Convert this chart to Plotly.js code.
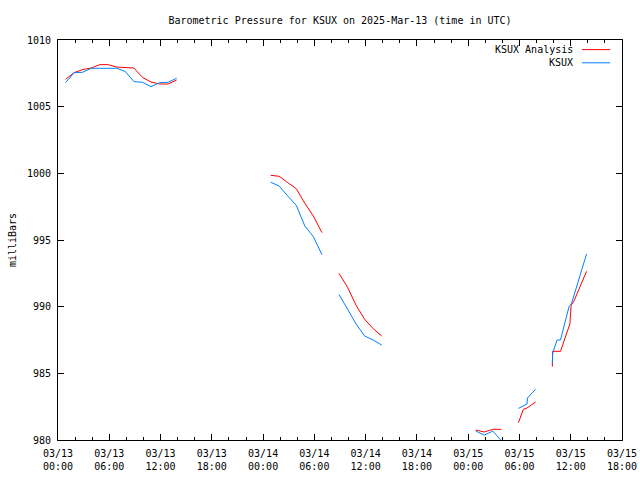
<!DOCTYPE html>
<html>
<head>
<meta charset="utf-8">
<script src="https://cdn.plot.ly/plotly-3.0.1.min.js"></script>
<style>html,body{margin:0;padding:0;background:#fff;}#chart{width:640px;height:480px;}</style>
</head>
<body>
<div id="chart"></div>
<script>
// KSUX Analysis (red)
var anaTimes = [
  '2025-03-13 00:53','2025-03-13 01:53','2025-03-13 02:53','2025-03-13 03:53','2025-03-13 04:53',
  '2025-03-13 05:53','2025-03-13 06:53','2025-03-13 07:53','2025-03-13 08:53','2025-03-13 09:53',
  '2025-03-13 10:53','2025-03-13 11:53','2025-03-13 12:53','2025-03-13 13:53',
  '2025-03-13 18:00',
  '2025-03-14 00:53','2025-03-14 01:53','2025-03-14 02:53','2025-03-14 03:53','2025-03-14 04:53',
  '2025-03-14 05:53','2025-03-14 06:53',
  '2025-03-14 07:30',
  '2025-03-14 08:53','2025-03-14 09:53','2025-03-14 10:53','2025-03-14 11:53','2025-03-14 12:53','2025-03-14 13:53',
  '2025-03-14 18:00',
  '2025-03-15 00:53','2025-03-15 01:53','2025-03-15 02:53','2025-03-15 03:53',
  '2025-03-15 04:30',
  '2025-03-15 05:53','2025-03-15 06:27','2025-03-15 06:53','2025-03-15 07:53',
  '2025-03-15 08:30',
  '2025-03-15 09:51','2025-03-15 09:53','2025-03-15 10:48','2025-03-15 11:54','2025-03-15 12:03',
  '2025-03-15 12:24','2025-03-15 13:51'
];
var anaValues = [
  1007.05,1007.55,1007.78,1007.9,1008.15,
  1008.15,1007.97,1007.95,1007.9,1007.2,
  1006.85,1006.7,1006.7,1007.0,
  null,
  999.85,999.78,999.3,998.85,997.75,
  996.8,995.55,
  null,
  992.5,991.45,990.1,989.05,988.35,987.8,
  null,
  980.75,980.6,980.8,980.8,
  null,
  981.3,982.3,982.4,982.85,
  null,
  985.5,986.65,986.65,988.7,990.1,
  990.45,992.65
];

// KSUX observations (blue)
var obsTimes = [
  '2025-03-13 00:53','2025-03-13 01:53','2025-03-13 02:53','2025-03-13 03:53','2025-03-13 04:53',
  '2025-03-13 05:53','2025-03-13 06:53','2025-03-13 07:53','2025-03-13 08:53','2025-03-13 09:53',
  '2025-03-13 10:53','2025-03-13 11:53','2025-03-13 12:53','2025-03-13 13:53',
  '2025-03-13 18:00',
  '2025-03-14 00:53','2025-03-14 01:53','2025-03-14 02:53','2025-03-14 03:53','2025-03-14 04:53',
  '2025-03-14 05:53','2025-03-14 06:53',
  '2025-03-14 07:30',
  '2025-03-14 08:53','2025-03-14 09:53','2025-03-14 10:53','2025-03-14 11:53','2025-03-14 12:53','2025-03-14 13:53',
  '2025-03-14 18:00',
  '2025-03-15 00:53','2025-03-15 01:53','2025-03-15 02:53','2025-03-15 03:53',
  '2025-03-15 04:30',
  '2025-03-15 05:53','2025-03-15 06:53','2025-03-15 06:56','2025-03-15 07:53',
  '2025-03-15 08:30',
  '2025-03-15 09:51','2025-03-15 09:53','2025-03-15 10:24','2025-03-15 10:48','2025-03-15 11:48',
  '2025-03-15 12:06','2025-03-15 13:51'
];
var obsValues = [
  1006.8,1007.55,1007.58,1007.88,1007.88,
  1007.88,1007.88,1007.63,1006.88,1006.83,
  1006.5,1006.8,1006.83,1007.13,
  null,
  999.33,999.05,998.3,997.6,996.05,
  995.25,993.9,
  null,
  990.92,989.85,988.7,987.8,987.5,987.12,
  null,
  980.67,980.37,980.67,979.95,
  null,
  982.37,982.7,983.15,983.8,
  null,
  985.75,986.5,987.5,987.5,990.0,
  990.25,993.95
];

var seriesNames = ['KSUX Analysis', 'KSUX'];
var seriesColors = ['#ff0000', '#0080ff'];
var yTicks = [980, 985, 990, 995, 1000, 1005, 1010];

var FONT = 'DejaVu Sans Mono, monospace';

var traces = [
  {x: anaTimes, y: anaValues, type: 'scatter', mode: 'lines', name: seriesNames[0],
   line: {color: seriesColors[0], width: 1}, connectgaps: false, showlegend: false},
  {x: obsTimes, y: obsValues, type: 'scatter', mode: 'lines', name: seriesNames[1],
   line: {color: seriesColors[1], width: 1}, connectgaps: false, showlegend: false}
];

// gnuplot-style key: text right-aligned, line sample to the right
var keyY = [0.976, 0.943];
var annotations = [];
var shapes = [];
for (var i = 0; i < seriesNames.length; i++) {
  annotations.push({xref: 'paper', yref: 'paper', x: 0.917, y: keyY[i], xanchor: 'right', yanchor: 'middle',
    text: seriesNames[i], showarrow: false, font: {family: FONT, size: 10, color: '#000'}});
  shapes.push({type: 'line', xref: 'paper', yref: 'paper', x0: 0.929, x1: 0.979, y0: keyY[i], y1: keyY[i],
    line: {color: seriesColors[i], width: 1}});
}

var layout = {
  width: 640, height: 480,
  margin: {l: 58, r: 18, t: 40, b: 40},
  paper_bgcolor: '#fff', plot_bgcolor: '#fff',
  font: {family: FONT, size: 10, color: '#000'},
  title: {text: 'Barometric Pressure for KSUX on 2025-Mar-13 (time in UTC)',
    font: {family: FONT, size: 10, color: '#000'},
    x: 0.5, xref: 'paper', xanchor: 'center', y: 0.958, yref: 'container', yanchor: 'middle'},
  xaxis: {
    type: 'date',
    range: ['2025-03-13 00:00', '2025-03-15 18:00'],
    tick0: '2025-03-13 00:00', dtick: 6 * 3600 * 1000,
    tickformat: '%m/%d<br>%H:%M',
    ticks: 'inside', ticklen: 6, tickcolor: '#000',
    minor: {tick0: '2025-03-13 00:00', dtick: 2 * 3600 * 1000, ticks: 'inside', ticklen: 3, tickcolor: '#000', showgrid: false},
    showline: true, linecolor: '#000', linewidth: 1, mirror: 'ticks',
    showgrid: false, zeroline: false,
    ticklabelstandoff: 4,
    tickfont: {family: FONT, size: 10, color: '#000'}
  },
  yaxis: {
    range: [980, 1010],
    tickmode: 'array', tickvals: yTicks, ticktext: yTicks.map(String),
    ticks: 'inside', ticklen: 6, tickcolor: '#000',
    showline: true, linecolor: '#000', linewidth: 1, mirror: 'ticks',
    showgrid: false, zeroline: false,
    ticklabelstandoff: 4,
    tickfont: {family: FONT, size: 10, color: '#000'},
    title: {text: 'milliBars', font: {family: FONT, size: 10, color: '#000'}, standoff: 8}
  },
  annotations: annotations,
  shapes: shapes,
  showlegend: false
};

Plotly.newPlot('chart', traces, layout, {staticPlot: true, displayModeBar: false});
</script>
</body>
</html>
